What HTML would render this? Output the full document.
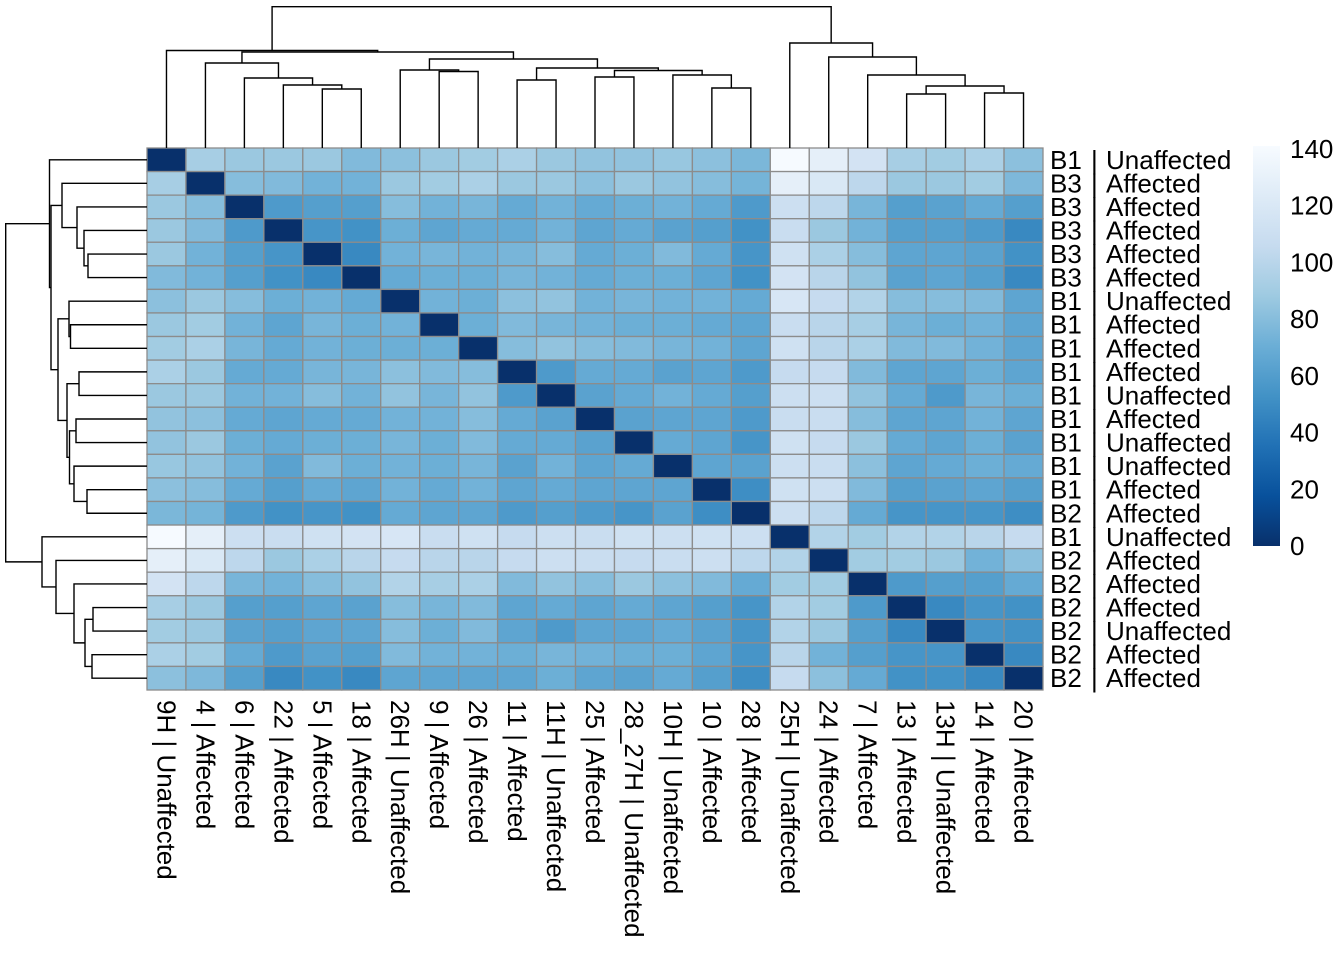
<!DOCTYPE html>
<html><head><meta charset="utf-8"><style>
body{margin:0;background:#fff;}
svg text{font-family:"Liberation Sans",Arial,sans-serif;fill:#000;}
</style></head><body>
<svg id="chart" width="1344" height="960" xmlns="http://www.w3.org/2000/svg">
<defs><linearGradient id="lg" x1="0" y1="1" x2="0" y2="0">
<stop offset="0" stop-color="#08306B"/><stop offset="0.125" stop-color="#08519C"/><stop offset="0.25" stop-color="#2171B5"/><stop offset="0.375" stop-color="#4292C6"/><stop offset="0.5" stop-color="#6BAED6"/><stop offset="0.625" stop-color="#9ECAE1"/><stop offset="0.75" stop-color="#C6DBEF"/><stop offset="0.875" stop-color="#DEEBF7"/><stop offset="1" stop-color="#F7FBFF"/></linearGradient></defs>
<g id="cells"></g>
<g id="dendro"></g>
<g id="labels"></g>
<g id="legend"></g>
</svg>
<script>
const colLabels=["9H | Unaffected","4 | Affected","6 | Affected","22 | Affected","5 | Affected","18 | Affected","26H | Unaffected","9 | Affected","26 | Affected","11 | Affected","11H | Unaffected","25 | Affected","28_27H | Unaffected","10H | Unaffected","10 | Affected","28 | Affected","25H | Unaffected","24 | Affected","7 | Affected","13 | Affected","13H | Unaffected","14 | Affected","20 | Affected"];
const rowBatch=["B1","B3","B3","B3","B3","B3","B1","B1","B1","B1","B1","B1","B1","B1","B1","B2","B1","B2","B2","B2","B2","B2","B2"];
const rowStatus=["Unaffected","Affected","Affected","Affected","Affected","Affected","Unaffected","Affected","Affected","Affected","Unaffected","Affected","Unaffected","Unaffected","Affected","Affected","Unaffected","Affected","Affected","Affected","Unaffected","Affected","Affected"];
const upper=[
[92,87,87,87,78,82,87,90,94,87,84,84,86,82,76,140,128,115,92,90,94,82],
[80,78,73,73,87,90,94,87,87,82,87,84,80,74,128,120,102,87,87,90,77],
[58,61,61,80,73,75,68,73,68,71,73,68,58,110,102,75,61,63,68,61],
[55,53,71,65,68,68,73,65,68,63,61,53,108,87,73,61,61,58,48],
[48,73,75,73,75,80,68,71,78,68,55,112,94,80,65,65,63,53],
[68,71,71,75,73,68,71,71,65,53,115,100,84,63,65,61,48],
[73,71,82,84,73,75,73,73,68,118,106,97,80,80,78,65],
[71,78,75,73,71,71,68,65,108,100,92,75,71,73,65],
[80,84,80,78,75,73,65,112,100,94,78,78,73,65],
[58,68,68,63,65,58,106,106,78,65,65,71,65],
[63,68,73,68,61,110,110,84,68,58,75,71],
[63,65,65,58,108,108,80,65,65,73,65],
[68,65,55,112,106,87,68,65,71,63],
[65,63,110,108,82,65,68,71,68],
[51,112,110,78,61,63,65,61],
[110,102,68,55,55,55,51],
[97,90,97,97,100,106],
[90,90,87,73,82],
[58,61,61,68],
[48,55,53],
[55,53],
[48]];
const legendTicks=[0,20,40,60,80,100,120,140];
const merges=[[4,5,59],[3,"n0",63],[2,"n1",70],[1,"n2",85],[7,8,76.5],[6,"n4",78],[9,10,68],[11,12,71],[14,15,60],[13,"n8",73],["n7","n9",77.5],["n6","n10",80],["n5","n11",89],["n3","n12",96],[0,"n13",97.5],[19,20,54],[21,22,55],["n15","n16",62],[18,"n17",73],[17,"n18",91],[16,"n19",105],["n14","n20",141.3]];

const NS="http://www.w3.org/2000/svg";
const N=colLabels.length,X0=147,Y0=148,W=896,H=542,cw=W/N,ch=H/N,VMAX=141;
const stops=["#08306B","#08519C","#2171B5","#4292C6","#6BAED6","#9ECAE1","#C6DBEF","#DEEBF7","#F7FBFF"];
function hex(h){return[1,3,5].map(i=>parseInt(h.substr(i,2),16));}
function color(v){let t=Math.max(0,Math.min(1,v/VMAX))*8,i=Math.min(7,Math.floor(t)),f=t-i,a=hex(stops[i]),b=hex(stops[i+1]);return"rgb("+a.map((c,k)=>Math.round(c+(b[k]-c)*f)).join(",")+")";}
function val(i,j){if(i===j)return 0;const a=Math.min(i,j),b=Math.max(i,j);return upper[a][b-a-1];}
function xc(j){return X0+cw*(j+0.5);} function yc(i){return Y0+ch*(i+0.5);}
function mk(tag,at,parent){const e=document.createElementNS(NS,tag);for(const k in at)e.setAttribute(k,at[k]);parent.appendChild(e);return e;}
const cells=document.getElementById('cells');
for(let i=0;i<N;i++)for(let j=0;j<N;j++){
 const r=mk('rect',{x:X0+cw*j,y:Y0+ch*i,width:cw,height:ch,fill:color(val(i,j)),stroke:'#8c8c8c','stroke-width':1.3},cells);
 
 
}
const dg=document.getElementById('dendro');
function draw(orient){
 const pos={},hgt={};
 function p(n){return typeof n==="number"?(orient==='top'?xc(n):yc(n)):pos[n];}
 function h(n){return typeof n==="number"?0:hgt[n];}
 merges.forEach((m,k)=>{
  const a=p(m[0]),b=p(m[1]),ha=h(m[0]),hb=h(m[1]),hh=m[2];
  let d;
  if(orient==='top'){const base=Y0;d=`M${a},${base-ha}V${base-hh}H${b}V${base-hb}`;}
  else{const base=X0;d=`M${base-ha},${a}H${base-hh}V${b}H${base-hb}`;}
  const e=mk('path',{d:d,fill:'none',stroke:'#000','stroke-width':1.4},dg);
  
  
  pos['n'+k]=(a+b)/2;hgt['n'+k]=hh;
 });
}
draw('top');draw('left');
const lb=document.getElementById('labels');
const FS=26;
for(let i=0;i<N;i++){
 const g=mk('g',{},lb);
 
 
 const y=yc(i)+9;
 mk('text',{x:1050,y:y,'font-size':FS},g).textContent=rowBatch[i];
 mk('text',{x:1091,y:y,'font-size':FS},g).textContent='|';
 mk('text',{x:1106,y:y,'font-size':FS},g).textContent=rowStatus[i];
 const t=mk('text',{x:0,y:0,'font-size':FS,transform:`translate(${xc(i)-9},700) rotate(90)`},lb);
 
 
 t.textContent=colLabels[i];
}
const lg=document.getElementById('legend');
const LT=146,LB=546;
const bar=mk('rect',{x:1253,y:LT,width:27,height:LB-LT,fill:'url(#lg)'},lg);


legendTicks.forEach(v=>{
 const y=LB-(LB-LT)*v/VMAX;
 const t=mk('text',{x:1290,y:y+9,'font-size':FS},lg);
 
 
 t.textContent=v;
});
</script>
</body></html>
